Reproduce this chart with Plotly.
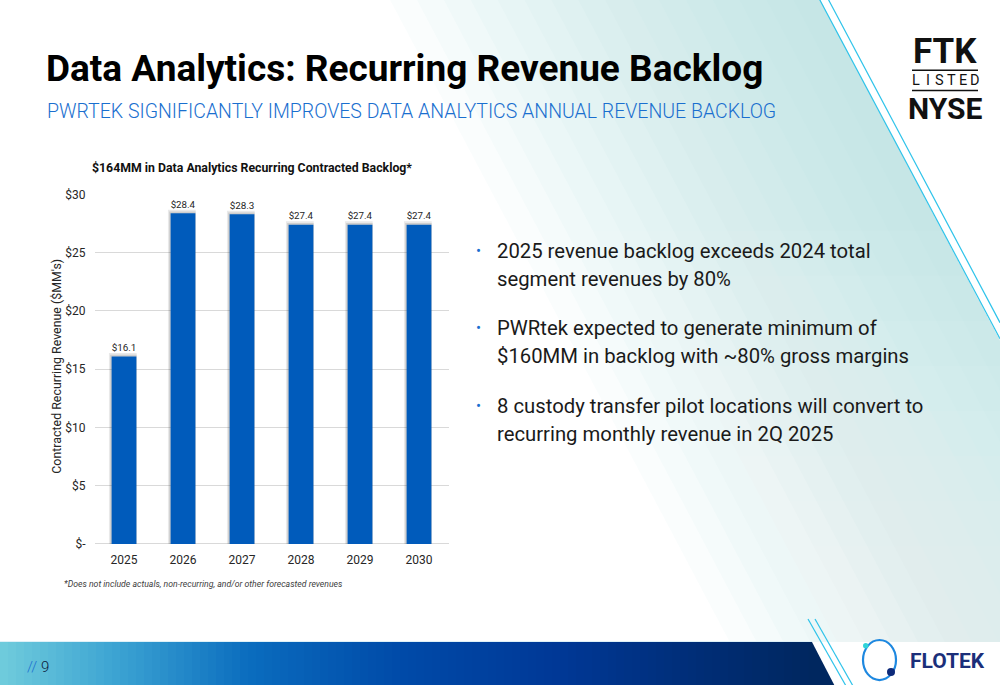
import plotly.graph_objects as go

# ---------------- data ----------------
years = ["2025", "2026", "2027", "2028", "2029", "2030"]
backlog_mm = [16.1, 28.4, 28.3, 27.4, 27.4, 27.4]
y_tick_vals = [0, 5, 10, 15, 20, 25, 30]
y_tick_text = ["$-", "$5", "$10", "$15", "$20", "$25", "$30"]

title_text = "Data Analytics: Recurring Revenue Backlog"
subtitle_text = "PWRTEK SIGNIFICANTLY IMPROVES DATA ANALYTICS ANNUAL REVENUE BACKLOG"
chart_title = "$164MM in Data Analytics Recurring Contracted Backlog*"
y_axis_title = "Contracted Recurring Revenue ($MM's)"
footnote = "*Does not include actuals, non-recurring, and/or other forecasted revenues"
bullets = [
    ["2025 revenue backlog exceeds 2024 total", "segment revenues by 80%"],
    ["PWRtek expected to generate minimum of", "$160MM in backlog with ~80% gross margins"],
    ["8 custody transfer pilot locations will convert to", "recurring monthly revenue in 2Q 2025"],
]

W, H = 1000, 685
# vertical placement correction (observed page offset / squeeze)
Y_OFF, Y_SCALE = 6.7, 0.9785


def px(x):
    return x / W


def py(y):
    return 1 - ((y - Y_OFF) / Y_SCALE) / H


def path(points):
    return "M " + " L ".join(f"{px(x):.5f},{py(y):.5f}" for x, y in points) + " Z"


shapes = []

# teal diagonal gradient (bands left of the diagonal line)
def xline(y):
    return 820 + 0.53 * y

N = 16
for i in range(N):
    d = 430 * (i + 1) / N
    pts = [(820 - d - 5, -10), (815, -10), (1000, 340), (1000, 641), (xline(641) - d, 641)]
    shapes.append(dict(type="path", path=path(pts), xref="paper", yref="paper",
                       fillcolor="rgba(165,221,228,0.06)", line=dict(width=0), layer="below"))
# vertical fade toward bottom
for j in range(8):
    y0 = 230 + j * 45
    shapes.append(dict(type="rect", x0=px(450), x1=px(1000), y0=py(y0), y1=py(641),
                       xref="paper", yref="paper", fillcolor="rgba(255,255,255,0.05)",
                       line=dict(width=0), layer="below"))

# bottom bar
shapes.append(dict(type="path", path=path([(0, 641), (812, 641), (840, 695), (0, 695)]),
                   xref="paper", yref="paper", fillcolor="#00275f", line=dict(width=0), layer="below"))
stops = [(0, (112, 204, 220)), (120, (58, 162, 210)), (250, (10, 108, 190)),
         (400, (0, 74, 168)), (560, (0, 56, 150)), (700, (0, 45, 118)), (812, (0, 39, 95))]


def grad_color(x):
    for (xa, ca), (xb, cb) in zip(stops[:-1], stops[1:]):
        if xa <= x <= xb:
            t = (x - xa) / (xb - xa)
            return "rgb(%d,%d,%d)" % tuple(round(a + (b - a) * t) for a, b in zip(ca, cb))
    return "rgb(%d,%d,%d)" % stops[-1][1]


step = 8
x = 0
while x < 808:
    shapes.append(dict(type="rect", x0=px(x), x1=px(min(x + step + 0.8, 812)), y0=py(695), y1=py(641),
                       xref="paper", yref="paper", fillcolor=grad_color(x + step / 2),
                       line=dict(width=0), layer="below"))
    x += step
shapes.append(dict(type="line", x0=px(0), x1=px(812), y0=py(640.5), y1=py(640.5),
                   xref="paper", yref="paper", line=dict(color="rgba(220,240,246,0.9)", width=1), layer="below"))

# diagonal cyan lines
for (xa, ya, xb, yb) in [(814.7, -10, 1000, 338), (823.5, -10, 1000, 322),
                         (808, 618, 850, 692), (815, 618, 857, 692)]:
    shapes.append(dict(type="line", x0=px(xa), y0=py(ya), x1=px(xb), y1=py(yb),
                       xref="paper", yref="paper", line=dict(color="#2ec3ea", width=1.2)))

# FTK logo rules
for yy in (70, 90):
    shapes.append(dict(type="line", x0=px(912), x1=px(978), y0=py(yy), y1=py(yy),
                       xref="paper", yref="paper", line=dict(color="#111111", width=1.5)))

# FLOTEK ring logo
shapes.append(dict(type="circle", x0=px(863), x1=px(896), y0=py(639), y1=py(679),
                   xref="paper", yref="paper", line=dict(color="#1e88e0", width=2.2)))
shapes.append(dict(type="circle", x0=px(863), x1=px(868.5), y0=py(642), y1=py(647.5),
                   xref="paper", yref="paper", fillcolor="#2fd3d8", line=dict(width=0)))
shapes.append(dict(type="circle", x0=px(887), x1=px(895), y0=py(667), y1=py(675),
                   xref="paper", yref="paper", fillcolor="#0d2a7a", line=dict(width=0)))

annotations = []


def ann(text, x, y, size, color="#000000", family="Roboto", weight=400, xanchor="left",
        yanchor="middle", style="normal", angle=0):
    annotations.append(dict(text=text, x=px(x), y=py(y), xref="paper", yref="paper",
                            xanchor=xanchor, yanchor=yanchor, showarrow=False, textangle=angle,
                            font=dict(size=size, color=color, family=family, weight=weight, style=style)))


ann(title_text, 44, 68, 37, "#000000", weight=700)
ann(subtitle_text, 45, 111, 19.5, "#1a6fcf", weight=300)
ann(chart_title, 252, 168, 12.3, "#111111", weight=700, xanchor="center")
ann(y_axis_title, 57, 366, 12.4, "#262626", xanchor="center", angle=-90)
ann(footnote, 62, 583, 8.7, "#404040", style="italic")

line_y = [[250, 278], [327, 355], [405, 433]]
for b, ys in zip(bullets, line_y):
    ann("•", 474, ys[0], 15, "#1a6fcf")
    for t, yy in zip(b, ys):
        ann(t, 495, yy, 20.3, "#1a1a1a", weight=400)

# FTK / LISTED / NYSE
ann("FTK", 945, 51, 35, "#111111", weight=700, xanchor="center")
for k, ch in enumerate("LISTED"):
    ann(ch, 916 + k * 11.7, 80, 14.5, "#111111", weight=400, xanchor="center")
ann("NYSE", 945, 108, 30, "#111111", weight=700, xanchor="center")

# FLOTEK wordmark
ann("FLOTEK", 947, 660, 21, "#1b2f7a", weight=700, xanchor="center")

# page number
annotations.append(dict(text="<span style='color:#1a6fd0'>//</span> 9", x=px(25), y=py(666),
                        xref="paper", yref="paper", xanchor="left", yanchor="middle", showarrow=False,
                        font=dict(size=15, color="#0b1a3a", family="Roboto", weight=300)))

fig = go.Figure()
shadow_vals = [v + 0.3 for v in backlog_mm]
fig.add_trace(go.Bar(x=years, y=shadow_vals, width=0.47, offset=-0.255,
                     marker=dict(color="rgba(70,70,70,0.12)", line=dict(width=0)), hoverinfo="skip",
                     showlegend=False))
fig.add_trace(go.Bar(x=years, y=[v + 0.15 for v in backlog_mm], width=0.45, offset=-0.235,
                     marker=dict(color="rgba(70,70,70,0.16)", line=dict(width=0)), hoverinfo="skip",
                     showlegend=False))
fig.add_trace(go.Bar(x=years, y=backlog_mm, width=0.42, offset=-0.21,
                     marker=dict(color="#005bbb", line=dict(width=0)),
                     texttemplate="$%{y:.1f}", textposition="outside", cliponaxis=False,
                     textfont=dict(size=11.8, color="#262626", family="Roboto"),
                     showlegend=False))

fig.update_layout(
    width=W, height=H, margin=dict(l=0, r=0, t=0, b=0),
    paper_bgcolor="#ffffff", plot_bgcolor="rgba(0,0,0,0)",
    barmode="overlay", bargap=0.58,
    shapes=shapes, annotations=annotations,
    xaxis=dict(domain=[px(94.5), px(448.5)], type="category", showgrid=False, showline=False,
               ticks="", tickfont=dict(size=12, color="#262626", family="Roboto"),
               ticklabelstandoff=7, fixedrange=True),
    yaxis=dict(domain=[py(543), py(194)], range=[0, 30], tickvals=y_tick_vals, ticktext=y_tick_text,
               showgrid=True, gridcolor="#d9d9d9", gridwidth=1, zeroline=True, zerolinecolor="#d9d9d9",
               zerolinewidth=1, showline=False, ticks="",
               tickfont=dict(size=12, color="#262626", family="Roboto"), ticklabelstandoff=8,
               fixedrange=True),
    font=dict(family="Roboto"),
)

fig.write_html(
    "out.html", config={"displayModeBar": False},
    post_script=(
        "var s=document.createElement('style');"
        "s.textContent='html,body{margin:0!important;padding:0!important;overflow:hidden!important;"
        "width:1000px;height:685px;} .main-svg{overflow:visible!important;}';"
        "document.head.appendChild(s);"
    ),
)
